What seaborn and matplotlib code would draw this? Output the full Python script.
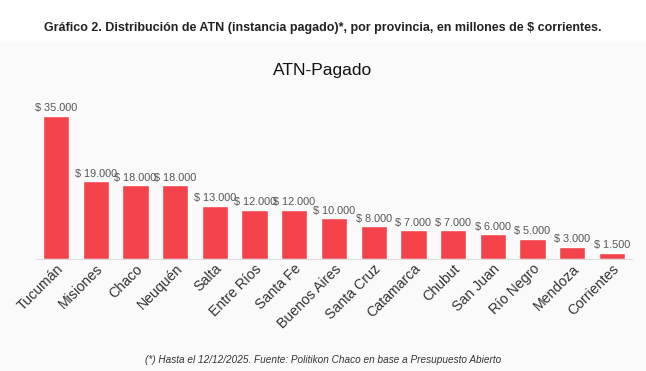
import matplotlib
matplotlib.use("Agg")
import matplotlib.pyplot as plt
import seaborn as sns
import pandas as pd

provincias = ["Tucumán", "Misiones", "Chaco", "Neuquén", "Salta", "Entre Ríos",
              "Santa Fe", "Buenos Aires", "Santa Cruz", "Catamarca", "Chubut",
              "San Juan", "Río Negro", "Mendoza", "Corrientes"]
pagado = [35000, 19000, 18000, 18000, 13000, 12000, 12000, 10000, 8000,
          7000, 7000, 6000, 5000, 3000, 1500]

df = pd.DataFrame({"provincia": provincias, "pagado": pagado})

sns.set_style("white")
plt.rcParams['font.family'] = ['Liberation Sans', 'DejaVu Sans']

fig = plt.figure(figsize=(6.46, 3.71), dpi=100)
# light panel behind the chart
fig.patches.append(plt.Rectangle((0, 0), 1, 0.89, transform=fig.transFigure,
                                 color="#fafafa", zorder=-1))

ax = fig.add_axes([0.056, 0.302, 0.922, 0.4286])
ax.set_facecolor("none")
sns.barplot(data=df, x="provincia", y="pagado", color="#f4434a",
            saturation=1, width=0.66, ax=ax)

for i, v in enumerate(pagado):
    txt = "$ " + f"{v:,}".replace(",", ".")
    ax.text(i, v + 600, txt, ha="center", va="bottom", fontsize=7.8, color="#555555")

ax.set_xlim(-0.5, len(provincias) - 0.5)
ax.set_ylim(0, 38900)
ax.set_yticks([])
ax.set_xlabel("")
ax.set_ylabel("")
for s in ["top", "right", "left"]:
    ax.spines[s].set_visible(False)
ax.spines["bottom"].set_color("#dddddd")
ax.tick_params(axis="x", length=0, pad=2)
plt.setp(ax.get_xticklabels(), rotation=45, ha="right", rotation_mode="anchor",
         fontsize=10.2, color="#333333")

fig.text(0.5, 0.925, "Gráfico 2. Distribución de ATN (instancia pagado)*, por provincia, en millones de $ corrientes.",
         ha="center", va="center", fontsize=9, color="#222222", fontweight="bold")
fig.text(0.5, 0.81, "ATN-Pagado", ha="center", va="center", fontsize=12.5, color="#111111")
fig.text(0.5, 0.03, "(*) Hasta el 12/12/2025. Fuente: Politikon Chaco en base a Presupuesto Abierto",
         ha="center", va="center", fontsize=7.2, style="italic", color="#333333")

fig.savefig("out.png", dpi=100)
